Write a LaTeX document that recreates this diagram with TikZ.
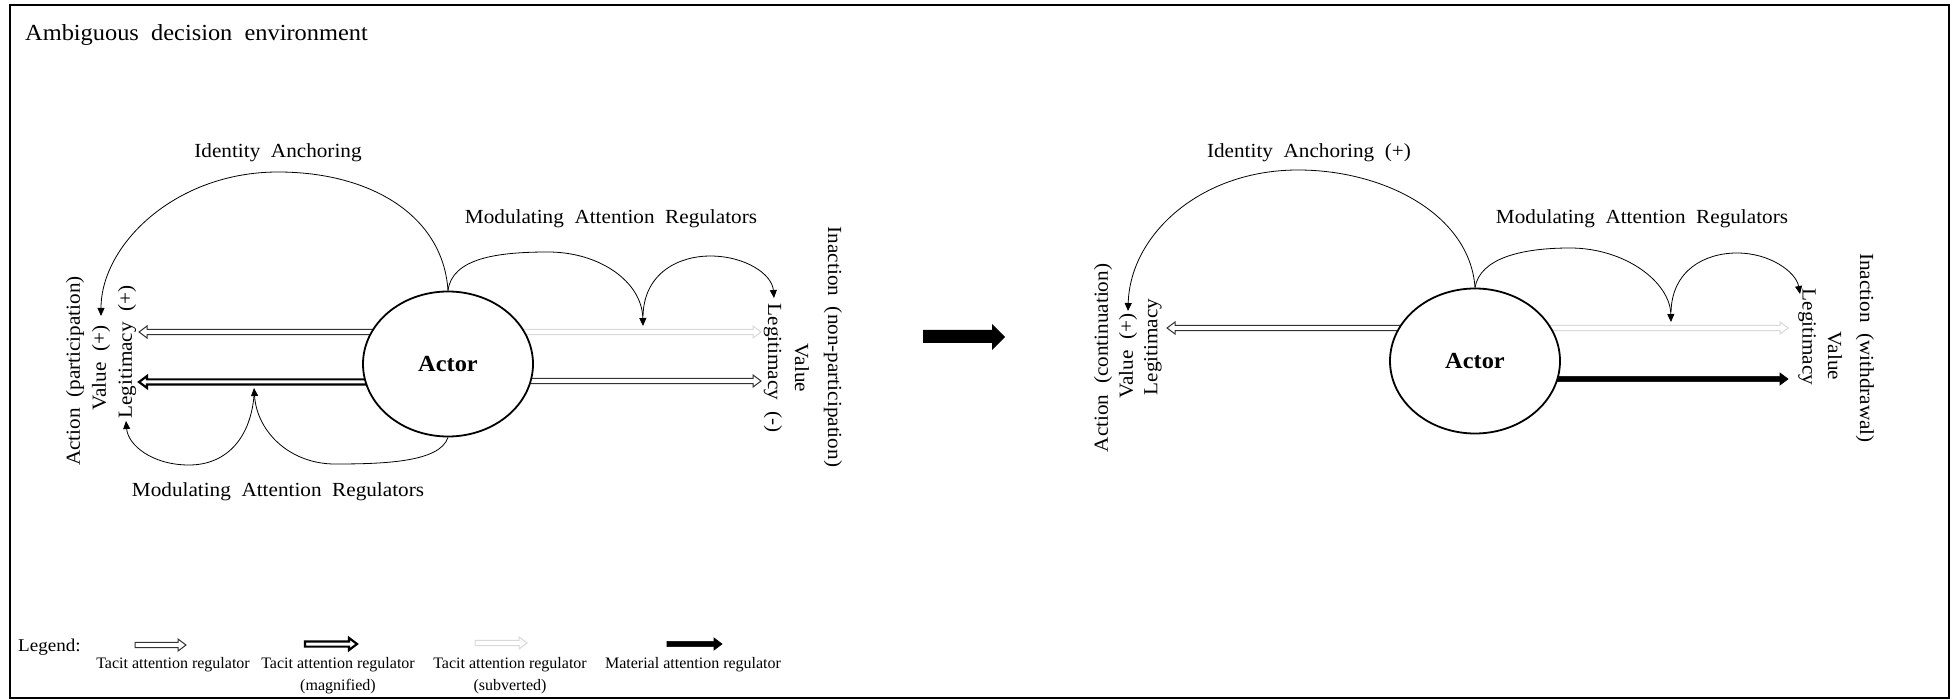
\documentclass[tikz,border=0pt]{standalone}
\usepackage{fontspec}
\setmainfont{Liberation Serif}[FakeStretch=1.06,WordSpace=2]
\newfontfamily\legfont{Liberation Serif}
\usetikzlibrary{arrows.meta,shapes.geometric,backgrounds,calc}
\begin{document}
\begin{tikzpicture}[x=1pt,y=-1pt,
  lab/.style={font=\fontsize{20}{24}\selectfont, inner sep=0pt},
  ttl/.style={font=\fontsize{23}{28}\selectfont, inner sep=0pt},
  legtxt/.style={font=\legfont\fontsize{16}{20}\selectfont, inner sep=0pt},
  actor/.style={ellipse, draw, line width=1.8pt, fill=white, minimum width=170pt, minimum height=145pt, inner sep=0pt, font=\bfseries\fontsize{23}{28}\selectfont},
  curv/.style={line width=0.8pt, -{Triangle[length=8pt,width=7pt]}},
  blk/.style={to path={let \p1=(\tikztostart), \p2=(\tikztotarget), \n1={ifthenelse(\x2>\x1,1,-1)} in
      (\x1,\y2+2.6pt) -- ({\x2-\n1*8pt},\y2+2.6pt) -- ({\x2-\n1*8pt},\y2+6pt) -- (\x2,\y2)
      -- ({\x2-\n1*8pt},\y2-6pt) -- ({\x2-\n1*8pt},\y2-2.6pt) -- (\x1,\y2-2.6pt) -- cycle}},
  tacit/.style={blk, draw=black!80, fill=white, line width=1pt},
  magn/.style={blk, draw=black, fill=white, line width=2.2pt},
  subv/.style={blk, draw=black!15, fill=white, line width=1pt},
  matr/.style={blk, draw=black, fill=black, line width=0.6pt},
]
\useasboundingbox (0,0) rectangle (1957,700);
\draw[line width=2pt] (10,5) rectangle (1949,698);
\node[ttl, anchor=west] (title) at (25,35) {Ambiguous decision environment};

% ---------------- left diagram
\node[actor] (LA) at (448,364) {Actor};
\coordinate (LtTip) at (139,332);
\coordinate (LmTip) at (139,382);
\coordinate (LsTip) at (761,332);
\coordinate (LrTip) at (761,381);
\begin{scope}[on background layer]
  \draw[tacit] (LA.center |- LtTip) to (LtTip);
  \draw[magn] (LA.center |- LmTip) to (LmTip);
  \draw[subv] (LA.center |- LsTip) to (LsTip);
  \draw[tacit] (LA.center |- LrTip) to (LrTip);
\end{scope}

\node[lab] (LidTxt) at (278,153) {Identity Anchoring};
\node[lab] (LmodTop) at (611,219) {Modulating Attention Regulators};
\node[lab] (LmodBot) at (278,492) {Modulating Attention Regulators};
\node[lab,rotate=90] (LAct) at (75,371) {Action (participation)};
\node[lab,rotate=90] (LVal) at (101,368) {Value (+)};
\node[lab,rotate=90] (LLeg) at (127,352) {Legitimacy (+)};
\node[lab,rotate=-90] (LInact) at (833,347) {Inaction (non-participation)};
\node[lab,rotate=-90] (LValR) at (802,368) {Value};
\node[lab,rotate=-90] (LLegR) at (773,368) {Legitimacy (-)};

\coordinate (LidTip) at (101,316);
\draw[curv] (LA.north) .. controls (443,215) and (370,172) .. (278,172) .. controls (175,172) and (101,245) .. (LidTip);
\coordinate (LsubTip) at (643,326);
\coordinate (LsubJoin) at (643,316);
\coordinate (LlegTip) at (774,298);
\draw[curv] (LA.north) .. controls (452,258) and (498,252) .. (548,252) .. controls (600,252) and (642,282) .. (LsubTip);
\draw[curv] (LsubJoin) .. controls (644,272) and (680,256) .. (710,256) .. controls (745,256) and (772,274) .. (LlegTip);
\coordinate (LmodTip1) at (254,388);
\coordinate (LmodJoin) at (254,396);
\coordinate (LmodTip2) at (126,421);
\draw[curv] (LA.south) .. controls (440,462) and (385,464) .. (335,464) .. controls (290,464) and (257,432) .. (LmodTip1);
\draw[curv] (LmodJoin) .. controls (250,440) and (225,465) .. (189,465) .. controls (152,465) and (128,445) .. (LmodTip2);

% ---------------- big arrow
\fill (923,330) -- (992,330) -- (992,324) -- (1005,337) -- (992,350) -- (992,343) -- (923,343) -- cycle;

% ---------------- right diagram
\node[actor] (RA) at (1475,361) {Actor};
\coordinate (RtTip) at (1167,328);
\coordinate (RsTip) at (1788,328);
\coordinate (RmTip) at (1788,379);
\begin{scope}[on background layer]
  \draw[tacit] (RA.center |- RtTip) to (RtTip);
  \draw[subv] (RA.center |- RsTip) to (RsTip);
  \draw[matr] (RA.center |- RmTip) to (RmTip);
\end{scope}

\node[lab] (RidTxt) at (1309,153) {Identity Anchoring (+)};
\node[lab] (RmodTop) at (1642,219) {Modulating Attention Regulators};
\node[lab,rotate=90] (RAct) at (1103,358) {Action (continuation)};
\node[lab,rotate=90] (RVal) at (1128,356) {Value (+)};
\node[lab,rotate=90] (RLeg) at (1153,347) {Legitimacy};
\node[lab,rotate=-90] (RInact) at (1865,348) {Inaction (withdrawal)};
\node[lab,rotate=-90] (RValR) at (1835,356) {Value};
\node[lab,rotate=-90] (RLegR) at (1807,337) {Legitimacy};

\coordinate (RidTip) at (1128,311);
\draw[curv] (RA.north) .. controls (1470,215) and (1385,170) .. (1298,170) .. controls (1200,170) and (1130,235) .. (RidTip);
\coordinate (RsubTip) at (1671,322);
\coordinate (RsubJoin) at (1671,312);
\coordinate (RlegTip) at (1800,294);
\draw[curv] (RA.north) .. controls (1480,258) and (1522,248) .. (1570,248) .. controls (1625,248) and (1670,282) .. (RsubTip);
\draw[curv] (RsubJoin) .. controls (1672,270) and (1705,253) .. (1737,253) .. controls (1770,253) and (1796,272) .. (RlegTip);

% ---------------- legend
\node[font=\fontsize{18}{22}\selectfont, inner sep=0pt, anchor=west] (legend) at (18,647) {Legend:};
\coordinate (g1a) at (135,645); \coordinate (g1b) at (186,645);
\coordinate (g2a) at (305,644); \coordinate (g2b) at (357,644);
\coordinate (g3a) at (475,643); \coordinate (g3b) at (527,643);
\coordinate (g4a) at (667,644); \coordinate (g4b) at (722,644);
\draw[tacit] (g1a) to (g1b);
\draw[magn] (g2a) to (g2b);
\draw[subv] (g3a) to (g3b);
\draw[matr] (g4a) to (g4b);
\node[legtxt] (g1t) at (173,665) {Tacit attention regulator};
\node[legtxt] (g2t) at (338,665) {Tacit attention regulator};
\node[legtxt] (g2u) at (338,687) {(magnified)};
\node[legtxt] (g3t) at (510,665) {Tacit attention regulator};
\node[legtxt] (g3u) at (510,687) {(subverted)};
\node[legtxt] (g4t) at (693,665) {Material attention regulator};
\end{tikzpicture}
\end{document}
